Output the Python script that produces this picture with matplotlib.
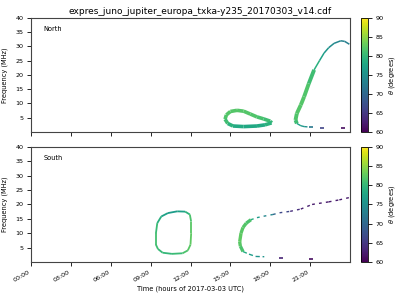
import matplotlib
matplotlib.use("Agg")
import matplotlib.pyplot as plt
import numpy as np
from matplotlib.collections import LineCollection
from matplotlib.colors import Normalize
from matplotlib.ticker import FuncFormatter

# North hemisphere emission: (hour, freq MHz, theta deg)
north_loop_t = [14.6, 14.7, 15.0, 15.5, 16.0, 16.5, 17.0, 17.5, 18.0, 18.1, 17.6, 17.0, 16.0, 15.2, 14.8, 14.6]
north_loop_f = [4.5, 6.0, 7.2, 7.6, 7.3, 6.3, 5.3, 4.6, 3.8, 3.2, 2.5, 2.1, 1.9, 2.1, 3.0, 4.5]
north_loop_th = [81.5, 82, 82, 82, 82, 82, 81.5, 81, 80.5, 80, 78.5, 78, 78, 78.5, 80, 81.5]

north_arc_low_t = [20.0, 19.9, 20.0, 20.3, 20.55, 20.9, 21.3]
north_arc_low_f = [3.0, 4.2, 6.5, 9.5, 12.4, 17.0, 21.8]
north_arc_low_th = [80, 81.5, 82, 82, 82, 81.5, 80]

north_arc_high_t = [21.3, 21.7, 22.05, 22.4, 22.8, 23.3, 23.6, 23.95]
north_arc_high_f = [21.8, 25.0, 27.7, 29.6, 31.1, 32.0, 31.8, 30.8]
north_arc_high_th = [80, 78, 76.5, 75, 74, 73.5, 73, 72.5]

north_tail_t = [20.0, 20.3, 20.55, 20.8]
north_tail_f = [3.0, 2.2, 1.9, 1.8]
north_tail_th = [78, 76.5, 75.5, 75]

north_dash_t = [21.05, 21.9, 23.5]
north_dash_f = [1.6, 1.5, 1.3]
north_dash_th = [72, 66, 61]

# South hemisphere emission
south_loop_t = [9.4, 9.4, 9.5, 9.8, 10.3, 11.0, 11.6, 11.95, 12.05, 12.05, 12.0, 11.8, 11.4, 10.6, 9.9, 9.55, 9.4]
south_loop_f = [6.0, 10.0, 13.5, 15.8, 17.0, 17.6, 17.5, 16.5, 14.0, 10.0, 6.0, 4.0, 3.0, 2.8, 3.2, 4.5, 6.0]
south_loop_th = [81, 81, 80, 78, 76.5, 76.5, 78, 81, 82, 82.5, 82.5, 82, 81, 80, 80, 80.5, 81]

south_arc_t = [15.95, 15.75, 15.7, 15.8, 15.95, 16.2, 16.55]
south_arc_f = [3.6, 5.5, 7.0, 10.0, 12.0, 13.5, 14.7]
south_arc_th = [81, 82, 82.5, 82.5, 82, 82, 81]

south_upper_t = [16.55, 17.0, 17.5, 18.2, 18.7, 19.5, 20.3, 21.15, 22.4, 23.2, 23.95]
south_upper_f = [14.7, 15.4, 15.9, 16.5, 17.1, 17.6, 18.4, 20.0, 20.9, 21.6, 22.4]
south_upper_th = [80, 77, 75.5, 72, 68, 65, 63, 62, 62, 62, 62]

south_lower_t = [15.95, 16.4, 16.9, 17.55]
south_lower_f = [3.6, 2.7, 1.9, 1.8]
south_lower_th = [79, 77.5, 76, 75]

south_dash_t = [18.8, 21.1]
south_dash_f = [1.3, 1.0]
south_dash_th = [63, 61]

hour_ticks = [0, 3, 6, 9, 12, 15, 18, 21]

cmap = plt.get_cmap("viridis")
norm = Normalize(60, 90)


def draw_curve(ax, t, f, th, lw, dashes=None):
    pts = np.column_stack([t, f])
    segs = np.stack([pts[:-1], pts[1:]], axis=1)
    th = np.asarray(th, dtype=float)
    vals = (th[:-1] + th[1:]) / 2
    lc = LineCollection(segs, cmap=cmap, norm=norm, linewidths=lw, capstyle="butt")
    if dashes is not None:
        lc.set_linestyle((0, dashes))
    lc.set_array(vals)
    ax.add_collection(lc)
    return lc


def draw_dashes(ax, t, f, th, width=0.3):
    for ti, fi, thi in zip(t, f, th):
        ax.plot([ti - width / 2, ti + width / 2], [fi, fi], color=cmap(norm(thi)),
                lw=1.2, solid_capstyle="butt")


plt.rcParams["font.size"] = 4.6

fig = plt.figure(figsize=(4, 3), dpi=100)
ax1 = fig.add_axes([0.0775, 0.56, 0.7975, 0.38])
ax2 = fig.add_axes([0.0775, 0.127, 0.7975, 0.383])
cax1 = fig.add_axes([0.9025, 0.56, 0.018, 0.38])
cax2 = fig.add_axes([0.9025, 0.127, 0.018, 0.383])

draw_curve(ax1, north_loop_t, north_loop_f, north_loop_th, 2.6)
draw_curve(ax1, north_arc_low_t, north_arc_low_f, north_arc_low_th, 2.8)
draw_curve(ax1, north_arc_high_t, north_arc_high_f, north_arc_high_th, 1.1)
draw_curve(ax1, north_tail_t, north_tail_f, north_tail_th, 1.0)
draw_dashes(ax1, north_dash_t, north_dash_f, north_dash_th)

draw_curve(ax2, south_loop_t, south_loop_f, south_loop_th, 1.3)
draw_curve(ax2, south_arc_t, south_arc_f, south_arc_th, 2.4)
draw_curve(ax2, south_upper_t, south_upper_f, south_upper_th, 1.0, dashes=[2, 3])
draw_curve(ax2, south_lower_t, south_lower_f, south_lower_th, 1.0, dashes=[3, 2])
draw_dashes(ax2, south_dash_t, south_dash_f, south_dash_th)

fig.suptitle("expres_juno_jupiter_europa_txka-y235_20170303_v14.cdf", fontsize=6.5, y=0.975)

for ax, name in [(ax1, "North"), (ax2, "South")]:
    ax.set_xlim(0, 24)
    ax.set_ylim(0, 40)
    ax.set_yticks([5, 10, 15, 20, 25, 30, 35, 40])
    ax.set_xticks(hour_ticks)
    ax.set_ylabel("Frequency (MHz)", fontsize=4.8, labelpad=5)
    ax.tick_params(labelsize=4.6, length=3, width=0.6, pad=2.5)
    for s in ax.spines.values():
        s.set_linewidth(0.8)
        s.set_color("#444444")
    ax.text(0.04, 0.9, name, transform=ax.transAxes, fontsize=4.8, va="center")

ax1.set_xticklabels([])
ax2.xaxis.set_major_formatter(FuncFormatter(lambda h, _: f"{int(h):02d}:00"))
plt.setp(ax2.get_xticklabels(), rotation=30, ha="right")
ax2.set_xlabel("Time (hours of 2017-03-03 UTC)", fontsize=4.8, labelpad=2)

sm = plt.cm.ScalarMappable(norm=norm, cmap=cmap)
for cax in (cax1, cax2):
    cb = fig.colorbar(sm, cax=cax)
    cb.set_ticks([60, 65, 70, 75, 80, 85, 90])
    cb.set_label(r"$\theta$ (degrees)", fontsize=4.8, labelpad=3)
    cb.ax.tick_params(labelsize=4.6, length=3, width=0.6, pad=2)
    cb.outline.set_linewidth(0.6)

fig.savefig("out.png", dpi=100)
